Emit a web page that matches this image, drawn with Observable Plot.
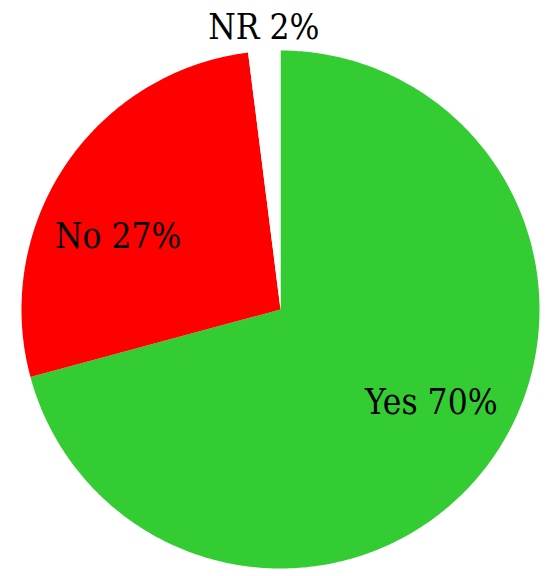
<!DOCTYPE html>
<html>
<head>
<meta charset="utf-8">
<script src="https://cdn.jsdelivr.net/npm/d3@7"></script>
<script src="https://cdn.jsdelivr.net/npm/@observablehq/plot@0.6"></script>
<style>
html,body{margin:0;padding:0;background:#fff;}
</style>
</head>
<body>
<div id="chart"></div>
<script>
const categories = ["Yes", "No", "NR"];
const values = [70.8, 27.2, 2.0];
const pctLabels = ["70%", "27%", "2%"];
const colors = ["#33CC33", "#FF0000", "#FFFFFF"];

const total = d3.sum(values);
const slicePts = [];
const labels = [];
let start = 0;
categories.forEach((c, i) => {
  const a0 = start / total * 2 * Math.PI;
  const a1 = (start + values[i]) / total * 2 * Math.PI;
  start += values[i];
  slicePts.push({cat: c, x: 0, y: 0});
  const n = Math.max(2, Math.ceil((a1 - a0) / 0.01));
  for (let k = 0; k <= n; k++) {
    const a = a0 + (a1 - a0) * k / n;
    slicePts.push({cat: c, x: Math.sin(a), y: Math.cos(a)});
  }
  slicePts.push({cat: c, x: 0, y: 0});
  const am = (a0 + a1) / 2;
  const r = values[i] < 5 ? 1.09 : 0.68;
  labels.push({cat: c, text: c + " " + pctLabels[i], x: r * Math.sin(am), y: r * Math.cos(am)});
});

const nudges = {Yes: [11, -14], No: [-16, 25], NR: [1, 0]};
const font = "'DejaVu Serif Condensed', 'DejaVu Serif', serif";

const chart = Plot.plot({
  width: 549,
  height: 576,
  marginLeft: 21,
  marginRight: 10,
  marginTop: 50,
  marginBottom: 8,
  x: {domain: [-1, 1], axis: null},
  y: {domain: [-1, 1], axis: null},
  color: {domain: categories, range: colors},
  style: {background: "#fff", overflow: "visible"},
  marks: [
    Plot.line(slicePts, {x: "x", y: "y", z: "cat", fill: "cat", stroke: null, curve: "linear"}),
    ...labels.map(l => Plot.text([l], {x: "x", y: "y", text: "text", fontSize: 35, fill: "#000",
      fontFamily: font, dx: nudges[l.cat][0], dy: nudges[l.cat][1]}))
  ]
});
document.getElementById("chart").appendChild(chart);
</script>
</body>
</html>
